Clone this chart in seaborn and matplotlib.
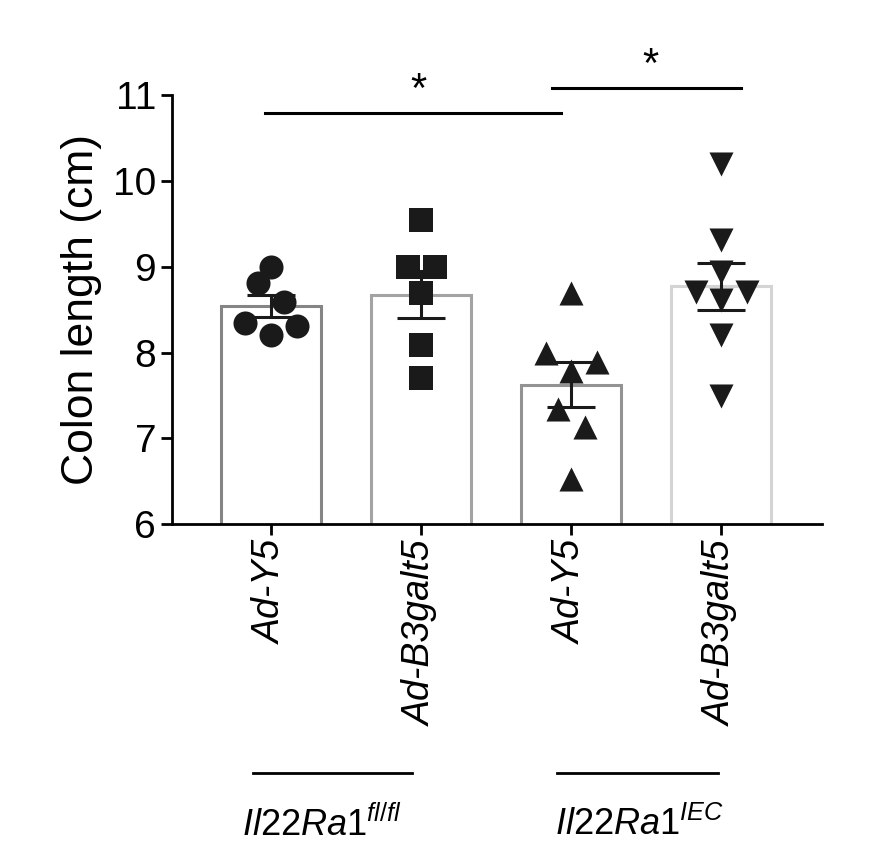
import numpy as np
import pandas as pd
import matplotlib
matplotlib.use("Agg")
import matplotlib.pyplot as plt
import seaborn as sns

plt.rcParams["font.family"] = "Liberation Sans"
plt.rcParams["mathtext.fontset"] = "custom"
plt.rcParams["mathtext.it"] = "Liberation Sans:italic"
plt.rcParams["mathtext.rm"] = "Liberation Sans"

groups = ["Ad-Y5", "Ad-B3galt5", "Ad-Y5 ", "Ad-B3galt5 "]
tick_labels = ["Ad-Y5", "Ad-B3galt5", "Ad-Y5", "Ad-B3galt5"]
vals_fl_y5 = [9.00, 8.81, 8.59, 8.35, 8.31, 8.20]
vals_fl_b3 = [9.55, 9.00, 9.00, 8.70, 8.09, 7.70]
vals_iec_y5 = [8.69, 8.00, 7.89, 7.79, 7.34, 7.13, 6.53]
vals_iec_b3 = [10.20, 9.31, 8.94, 8.71, 8.71, 8.61, 8.20, 7.50]
all_vals = [vals_fl_y5, vals_fl_b3, vals_iec_y5, vals_iec_b3]

# horizontal jitter as drawn in the figure (category units)
jitter = [
    [0, -0.09, 0.085, -0.175, 0.17, 0],
    [0, -0.09, 0.09, 0, 0, 0],
    [0, -0.17, 0.17, 0, -0.085, 0.09, 0],
    [0, 0, 0, -0.17, 0.17, 0, 0, 0],
]
markers = ["o", "s", "^", "v"]
edge_colors = ["#858585", "#a3a3a3", "#939393", "#d4d4d4"]

df = pd.DataFrame({
    "group": [g for g, v in zip(groups, all_vals) for _ in v],
    "value": [x for v in all_vals for x in v],
})

fig = plt.figure(figsize=(8.74, 8.51), dpi=100)
ax = fig.add_axes([0.197, 0.384, 0.743, 0.504])

sns.barplot(data=df, x="group", y="value", order=groups, errorbar=None,
            width=0.67, color="white", ax=ax)
for patch, ec in zip(ax.patches, edge_colors):
    patch.set_edgecolor(ec)
    patch.set_linewidth(2.2)

for i, (v, jit, m) in enumerate(zip(all_vals, jitter, markers)):
    v = np.array(v)
    xs = i + np.array(jit)
    ax.scatter(xs, v, marker=m, s=300, color="#1a1a1a", zorder=3, linewidths=0)
    mean = v.mean()
    sem = v.std(ddof=1) / np.sqrt(len(v))
    ax.errorbar(i, mean, yerr=sem, color="#1a1a1a", capsize=17.5,
                elinewidth=2.2, capthick=2.2, zorder=4)

ax.set_ylim(6, 11)
ax.set_xlim(-0.66, 3.67)
ax.set_yticks([6, 7, 8, 9, 10, 11])
ax.set_ylabel("Colon length (cm)", fontsize=32, labelpad=8)
ax.set_xlabel("")
ax.set_xticks(range(4))
ax.set_xticklabels(tick_labels, rotation=90, style="italic", fontsize=27)
ax.tick_params(axis="y", labelsize=28, width=2, length=8)
ax.tick_params(axis="x", width=2, length=8)
for s in ["top", "right"]:
    ax.spines[s].set_visible(False)
for s in ["left", "bottom"]:
    ax.spines[s].set_linewidth(2)

# significance bars
ax.plot([-0.04, 1.93], [10.79, 10.79], color="black", lw=2.2, clip_on=False)
ax.text(0.98, 10.82, "*", ha="center", va="bottom", fontsize=30)
ax.plot([1.87, 3.13], [11.08, 11.08], color="black", lw=2.2, clip_on=False)
ax.text(2.53, 11.11, "*", ha="center", va="bottom", fontsize=30, clip_on=False)

# genotype groups
fig.add_artist(plt.Line2D([253 / 874, 412 / 874], [1 - 773 / 851] * 2, color="black", lw=2))
fig.add_artist(plt.Line2D([557 / 874, 718 / 874], [1 - 773 / 851] * 2, color="black", lw=2))
fig.text(322 / 874, 1 - 825 / 851, r"$\mathit{Il22Ra1}^{\mathit{fl/fl}}$", ha="center", va="center", fontsize=26)
fig.text(640 / 874, 1 - 825 / 851, r"$\mathit{Il22Ra1}^{\mathit{IEC}}$", ha="center", va="center", fontsize=26)

fig.savefig("out.png", dpi=100, facecolor="white")
